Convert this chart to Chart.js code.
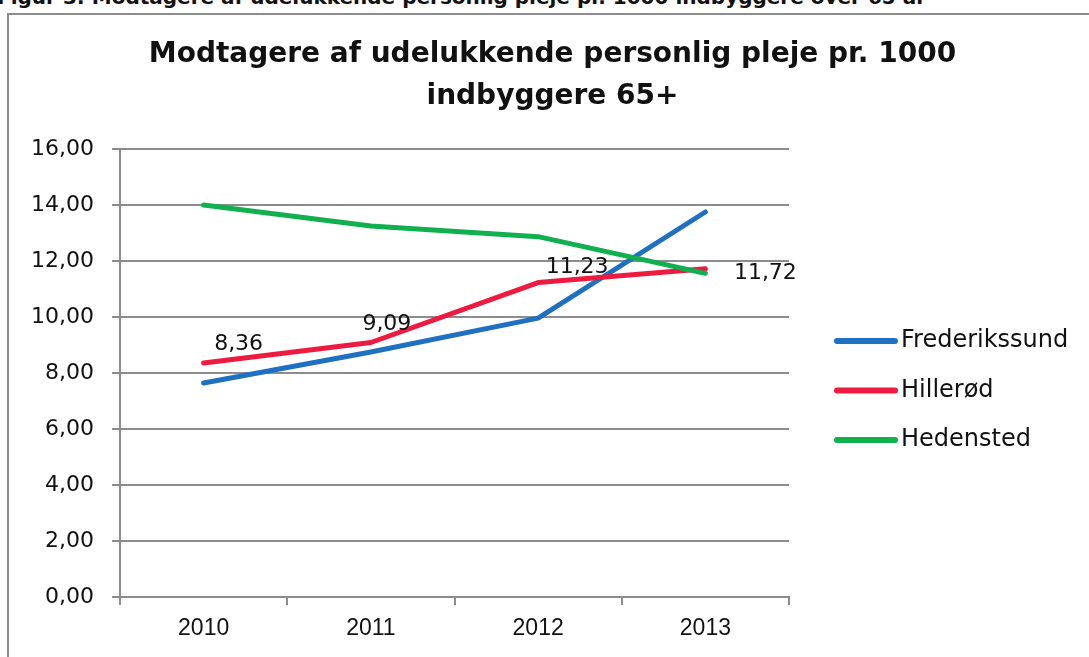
<!DOCTYPE html>
<html>
<head>
<meta charset="utf-8">
<script src="https://cdn.jsdelivr.net/npm/chart.js@4.4.1/dist/chart.umd.min.js"></script>
<style>
  body { margin: 0; width: 1089px; height: 657px; overflow: hidden; background: #fff; position: relative; }
  #caption { position: absolute; left: -3px; top: -14px; font: bold 20px/22px 'DejaVu Sans', sans-serif; color: #111; white-space: nowrap; }
  #frame { position: absolute; left: 7px; top: 13px; width: 1200px; height: 700px; border: 2px solid #8c8c8c; }
  #wrap { position: absolute; left: 0; top: 0; width: 1089px; height: 657px; }
</style>
</head>
<body>
<div id="caption">Figur 3: Modtagere af udelukkende personlig pleje pr. 1000 indbyggere over 65 år</div>
<div id="frame"></div>
<div id="wrap"><canvas id="myChart" width="1089" height="657"></canvas></div>
<script>
const years = ['2010', '2011', '2012', '2013'];
const frederikssund = [7.64, 8.75, 9.96, 13.75];
const hilleroed = [8.36, 9.09, 11.23, 11.72];
const hedensted = [14.00, 13.25, 12.87, 11.56];

const seriesNames = ['Frederikssund', 'Hillerød', 'Hedensted'];
const seriesColors = ['#1f70c1', '#ec1b3f', '#11b04f'];

const titleLines = ['Modtagere af udelukkende personlig pleje pr. 1000', 'indbyggere 65+'];

const fmt = v => Number(v).toFixed(2).replace('.', ',');
const gray = '#8c8c8c';

// value labels next to the Hillerød points (offsets from each point)
const pointLabels = {
    id: 'pointLabels',
    afterDatasetsDraw(chart, args, opts) {
        const ctx = chart.ctx;
        const meta = chart.getDatasetMeta(opts.datasetIndex);
        const data = chart.data.datasets[opts.datasetIndex].data;
        ctx.save();
        ctx.font = '22px "DejaVu Sans"';
        ctx.fillStyle = '#111';
        ctx.textAlign = 'center';
        ctx.textBaseline = 'middle';
        meta.data.forEach((pt, i) => {
            const off = opts.offsets[i] || [0, 0];
            ctx.fillText(fmt(data[i]), pt.x + off[0], pt.y + off[1]);
        });
        ctx.restore();
    }
};

// legend on the right, drawn like the original line keys
const lineLegend = {
    id: 'lineLegend',
    afterDraw(chart) {
        const ctx = chart.ctx;
        const area = chart.chartArea;
        ctx.save();
        chart.data.datasets.forEach((ds, i) => {
            const y = area.top + 192 + i * 49.5;
            const x0 = area.right + 48;
            ctx.strokeStyle = ds.borderColor;
            ctx.lineWidth = 6;
            ctx.lineCap = 'round';
            ctx.beginPath();
            ctx.moveTo(x0, y);
            ctx.lineTo(x0 + 58, y);
            ctx.stroke();
            ctx.font = '24px "DejaVu Sans"';
            ctx.fillStyle = '#111';
            ctx.textAlign = 'left';
            ctx.textBaseline = 'middle';
            ctx.fillText(ds.label, x0 + 64, y);
        });
        ctx.restore();
    }
};

const ctx = document.getElementById('myChart').getContext('2d');
const myChart = new Chart(ctx, {
    type: 'line',
    data: {
        labels: years,
        datasets: [
            { label: seriesNames[0], data: frederikssund, borderColor: seriesColors[0], order: 2 },
            { label: seriesNames[1], data: hilleroed, borderColor: seriesColors[1], order: 1 },
            { label: seriesNames[2], data: hedensted, borderColor: seriesColors[2], order: 0 }
        ]
    },
    options: {
        responsive: false,
        animation: false,
        layout: {
            padding: { left: 16, right: 0, top: 0, bottom: 0 }
        },
        elements: {
            line: { borderWidth: 5, tension: 0, borderCapStyle: 'round', borderJoinStyle: 'round', fill: false },
            point: { radius: 0, hoverRadius: 0 }
        },
        plugins: {
            legend: { display: false },
            tooltip: { enabled: false },
            title: {
                display: true,
                text: titleLines,
                color: '#111',
                font: { family: 'DejaVu Sans', size: 28, weight: 'bold', lineHeight: 1.5 },
                padding: { top: 34, bottom: 31 }
            },
            pointLabels: {
                datasetIndex: 1,
                offsets: [[35, -19], [16, -18], [39, -15], [60, 4]]
            }
        },
        scales: {
            x: {
                offset: true,
                grid: { display: true, drawOnChartArea: false, offset: true, tickLength: 8, color: gray, lineWidth: 2 },
                border: { display: true, color: gray, width: 2 },
                ticks: {
                    color: '#111',
                    padding: 10,
                    font: { family: '"Liberation Sans Narrow", "Liberation Sans"', size: 23 }
                },
                afterFit: s => { s.height = 60; }
            },
            y: {
                min: 0,
                max: 16,
                ticks: {
                    stepSize: 2,
                    color: '#111',
                    padding: 18,
                    font: { family: 'DejaVu Sans', size: 22 },
                    callback: v => fmt(v)
                },
                grid: { color: gray, lineWidth: 2, tickLength: 8 },
                border: { display: true, color: gray, width: 2 },
                afterFit: s => { s.width = 104; }
            },
            gap: {
                type: 'linear',
                position: 'right',
                display: true,
                grid: { display: false },
                border: { display: false },
                ticks: { display: false },
                afterFit: s => { s.width = 300; }
            }
        }
    },
    plugins: [pointLabels, lineLegend]
});
</script>
</body>
</html>
